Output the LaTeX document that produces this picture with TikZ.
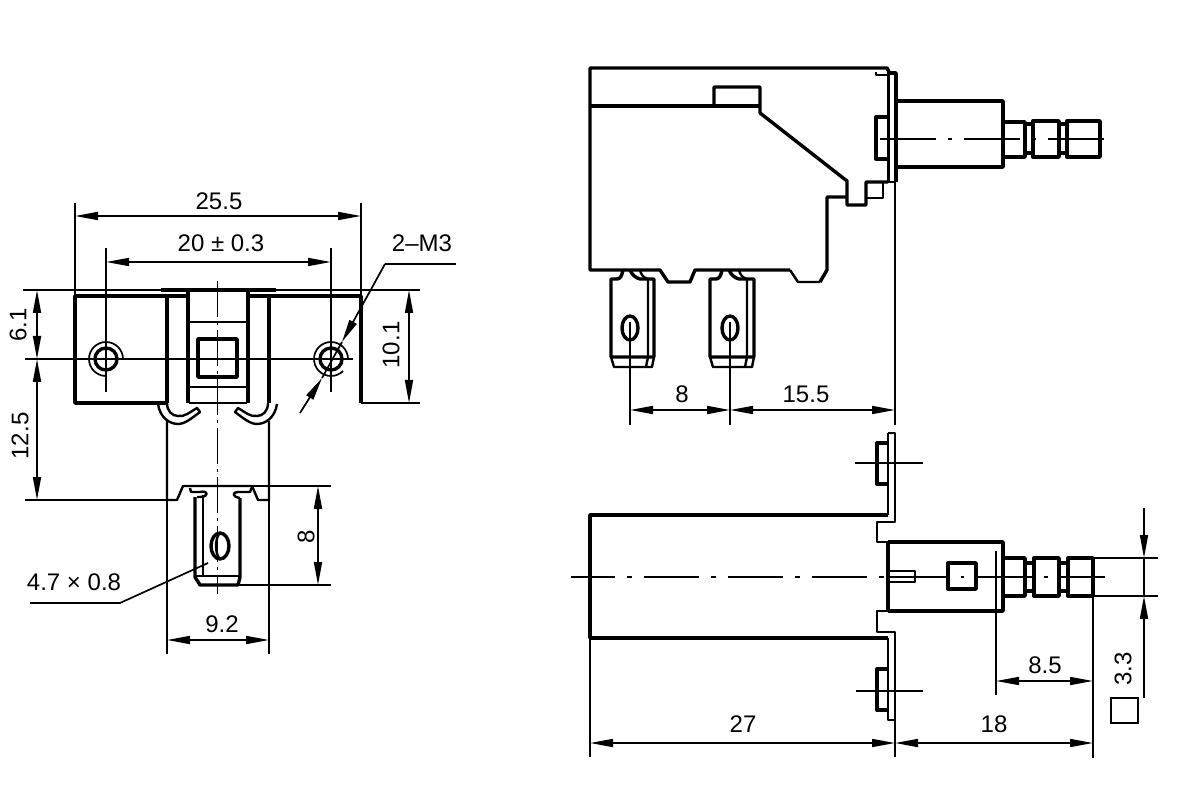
\documentclass[tikz,border=0pt]{standalone}
\usepackage{fontspec}
\setmainfont{Liberation Sans}
\usetikzlibrary{arrows.meta}
\tikzstyle{part} = [line width=3.4pt, line join=round]
\tikzstyle{mid} = [line width=2.4pt, line join=round]
\tikzstyle{thinline} = [line width=1.7pt]
\tikzstyle{centerline} = [line width=1.8pt, dash pattern=on 55.5pt off 12pt on 4.5pt off 12pt]
\tikzstyle{axisline} = [line width=1.7pt, dash pattern=on 36pt off 5pt on 3pt off 5pt]
\tikzstyle{dimline} = [line width=1.7pt, {Triangle[length=23pt,width=8pt]}-{Triangle[length=23pt,width=8pt]}]
\tikzstyle{tipline} = [line width=1.7pt, -{Triangle[length=23pt,width=8pt]}]
\tikzstyle{label} = [inner sep=0pt, font=\fontsize{24}{26}\selectfont]
\begin{document}
\begin{tikzpicture}[x=1pt,y=-1pt]
\useasboundingbox (0,0) rectangle (1200,802);

% front view, flange and body
\draw[part] (167,403) -- (75,403) -- (75,296) -- (188,296);
\draw[part] (248,296) -- (361,296) -- (361,403);
\draw[part] (161,290) -- (276,290);
\draw[part] (167,296) -- (167,403);
\draw[part] (188,290) -- (188,403);
\draw[part] (248,290) -- (248,403);
\draw[part] (269,296) -- (269,403);
\draw[mid] (188,322) -- (248,322);
\draw[mid] (188,387) -- (248,387);
\draw[mid] (189,403) -- (247,403);
\draw[part] (198,339) rectangle (237,377);
\draw[mid] (158,404) .. controls (160,418) and (170,424) .. (178,424) .. controls (185,424) and (192,418) .. (200,412) -- (197,408) .. controls (190,412) and (185,417) .. (178,416) .. controls (172,416) and (167,411) .. (167,403);
\draw[mid] (277,404) .. controls (275,418) and (265,424) .. (257,424) .. controls (250,424) and (243,418) .. (235,412) -- (238,408) .. controls (245,412) and (250,417) .. (257,416) .. controls (263,416) and (268,411) .. (268,403);
\draw[mid] (167,420) -- (167,500) -- (177,500) -- (183,486) -- (252,486) -- (258,500) -- (269,500) -- (269,421);
\draw[part] (106,359) circle (11);
\draw[part] (331,359) circle (11);
\draw[thinline] (106,376) arc (90:360:17);
\draw[thinline] (331,376) arc (90:360:17);
\draw[thinline] (331,376) arc (90:45:17);

% front view, terminal
\draw[part] (195,497) -- (195,577) -- (200,585) -- (238,585) -- (240,577) -- (240,498);
\draw[mid] (203,495) -- (203,576);
\draw[mid] (195,576) -- (240,576);
\draw[mid] (190,488) -- (191,492) -- (200,492) .. controls (209,490) and (209,497) .. (200,497) -- (197,497);
\draw[mid] (252,487) -- (250,492) -- (238,492) .. controls (232,492) and (232,497) .. (240,498);
\draw[part] (220,546) ellipse (9 and 13);
\draw[mid] (219,534) .. controls (215,540) and (215,552) .. (219,558);

% front view, dimensions
\draw[axisline] (217.5,281) -- (217.5,594);
\draw[thinline] (23,290) -- (161,290);
\draw[thinline] (276,290) -- (420,290);
\draw[thinline] (361,403) -- (420,403);
\draw[thinline] (25,359) -- (353,359);
\draw[thinline] (25,500) -- (177,500);
\draw[thinline] (252,486) -- (331,486);
\draw[thinline] (200,585) -- (331,585);
\draw[thinline] (75,203) -- (75,296);
\draw[thinline] (361,203) -- (361,296);
\draw[thinline] (106,248) -- (106,392);
\draw[thinline] (331,248) -- (331,392);
\draw[thinline] (167,500) -- (167,654);
\draw[thinline] (269,500) -- (269,654);
\draw[dimline] (75,216) -- (361,216);
\draw[dimline] (106,262) -- (331,262);
\draw[dimline] (409,290) -- (409,403);
\draw[dimline] (37,290) -- (37,359);
\draw[dimline] (37,359) -- (37,500);
\draw[dimline] (318,486) -- (318,585);
\draw[dimline] (167,640) -- (269,640);
\draw[thinline] (456,264) -- (385,264);
\draw[tipline] (385,264) -- (342,342);
\draw[thinline] (342,342) -- (322,378);
\draw[tipline] (300,413) -- (322,378);
\draw[thinline] (30,603) -- (120,603) -- (208,563);
\node[label] (width) at (219,201) {25.5};
\node[label] (pitch) at (221,243) {20 ± 0.3};
\node[label] (screw) at (422,243) {2–M3};
\node[label, rotate=90] (height) at (391,345) {10.1};
\node[label, rotate=90] (upper) at (18,325) {6.1};
\node[label, rotate=90] (lower) at (20,436) {12.5};
\node[label, rotate=90] (tablen) at (306,537) {8};
\node[label] (tabwidth) at (222,624) {9.2};
\node[label] (tabsize) at (74,582) {4.7 × 0.8};

% side view, housing
\draw[mid] (888,182) -- (895,182);
\draw[part] (589,106) -- (760,106);
\draw[part] (714,106) -- (714,87) -- (760,87) -- (760,113) -- (847,181) -- (847,205) -- (866,205) -- (866,182) -- (888,182);
\draw[part] (847,197) -- (827,197) -- (827,270) -- (820,282);
\draw[mid] (820,282) -- (798,282) -- (790,270);
\draw[part] (790,270) -- (695,270) -- (690,282) -- (668,282) -- (660,270) -- (590,270) -- (590,68) -- (887,68) -- (889,72);
\draw[mid] (867,198) -- (883,198) -- (883,182);
\draw[mid] (876,72) -- (876,75) -- (888,75);
\draw[mid] (888.5,72) -- (888.5,182);
\draw[part] (889,73) -- (896,73) -- (896,182);
\draw[part] (887,117) -- (876,117) -- (876,159) -- (887,159);

% side view, plunger
\draw[part] (897,101) -- (1003,101) -- (1003,167) -- (897,167);
\draw[part] (1003,122) -- (1025,122) -- (1025,157) -- (1003,157);
\draw[part] (1025,124) -- (1033,124);
\draw[part] (1025,153) -- (1033,153);
\draw[part] (1033,121) rectangle (1059,157);
\draw[part] (1059,124) -- (1067,124);
\draw[part] (1059,153) -- (1067,153);
\draw[part] (1067,121) rectangle (1100,157);
\draw[centerline, dash phase=-7pt] (873,139) -- (1108,139);

% side view, terminals
\draw[part] (623,270) .. controls (622,276) and (620,279) .. (617,279) -- (611,279) -- (611,357) -- (654,357) -- (654,279) -- (640,279) .. controls (636,278) and (632,275) .. (630,270);
\draw[mid] (640,270) .. controls (641,275) and (644,278) .. (648,279) -- (648,357);
\draw[mid] (611,357) -- (614,367) -- (652,367) -- (654,357);
\draw[mid] (648,357) -- (646,367);
\draw[part] (630,328) ellipse (8 and 12);
\draw[part] (722,270) .. controls (721,276) and (719,279) .. (716,279) -- (710,279) -- (710,357) -- (754,357) -- (754,279) -- (739,279) .. controls (735,278) and (731,275) .. (729,270);
\draw[mid] (739,270) .. controls (740,275) and (743,278) .. (747,279) -- (747,357);
\draw[mid] (710,357) -- (713,367) -- (752,367) -- (754,357);
\draw[mid] (747,357) -- (745,367);
\draw[part] (730,328) ellipse (8 and 12);
\draw[thinline] (630,322) -- (630,425);
\draw[thinline] (730,322) -- (730,425);
\draw[thinline] (895,182) -- (895,425);
\draw[dimline] (630,410) -- (730,410);
\draw[dimline] (730,410) -- (895,410);
\node[label] (termpitch) at (682,394) {8};
\node[label] (termdist) at (806,394) {15.5};

% top view
\draw[part] (888,515) -- (590,515) -- (590,638) -- (888,638);
\draw[mid] (888,433) -- (895,433) -- (895,522) -- (877,522) -- (877,542) -- (888,542);
\draw[mid] (888,433) -- (888,515);
\draw[part] (888,542) -- (1003,542) -- (1003,611) -- (888,611);
\draw[mid] (888,611) -- (877,611) -- (877,632) -- (895,632) -- (895,720) -- (888,720) -- (888,638);
\draw[part] (888,542) -- (888,611);
\draw[part] (887,443) -- (877,443) -- (877,484) -- (887,484);
\draw[part] (887,669) -- (877,669) -- (877,710) -- (887,710);
\draw[mid] (890,571) -- (915,571) -- (915,582) -- (890,582);
\draw[part] (948,563) rectangle (976,589);
\draw[part] (1003,558) -- (1025,558) -- (1025,596) -- (1003,596);
\draw[part] (1025,563) -- (1034,563);
\draw[part] (1025,591) -- (1034,591);
\draw[part] (1034,558) rectangle (1059,596);
\draw[part] (1059,563) -- (1068,563);
\draw[part] (1059,591) -- (1068,591);
\draw[part] (1068,558) rectangle (1093,596);
\draw[centerline, dash phase=11.5pt] (571,577) -- (885,577);
\draw[thinline] (890,577) -- (948,577);
\draw[thinline] (961,577) -- (964,577);
\draw[thinline] (976,577) -- (1034,577);
\draw[thinline] (1044,577) -- (1048,577);
\draw[thinline] (1059,577) -- (1105,577);
\draw[thinline] (855,463) -- (923,463);
\draw[thinline] (856,691) -- (923,691);

% top view, dimensions
\draw[thinline] (1093,558) -- (1158,558);
\draw[thinline] (1093,596) -- (1158,596);
\draw[thinline] (996,551) -- (996,695);
\draw[thinline] (1093,596) -- (1093,758);
\draw[thinline] (590,638) -- (590,757);
\draw[thinline] (895,720) -- (895,757);
\draw[thinline] (1144,558) -- (1144,596);
\draw[tipline] (1144,508) -- (1144,558);
\draw[tipline] (1144,698) -- (1144,596);
\draw[dimline] (996,681) -- (1093,681);
\draw[dimline] (590,743) -- (895,743);
\draw[dimline] (895,743) -- (1093,743);
\draw[thinline] (1111,698) rectangle (1138,723);
\node[label] (pushlen) at (1045,665) {8.5};
\node[label, rotate=90] (square) at (1123,669) {3.3};
\node[label] (bodylen) at (743,724) {27};
\node[label] (travel) at (994,724) {18};
\end{tikzpicture}
\end{document}
